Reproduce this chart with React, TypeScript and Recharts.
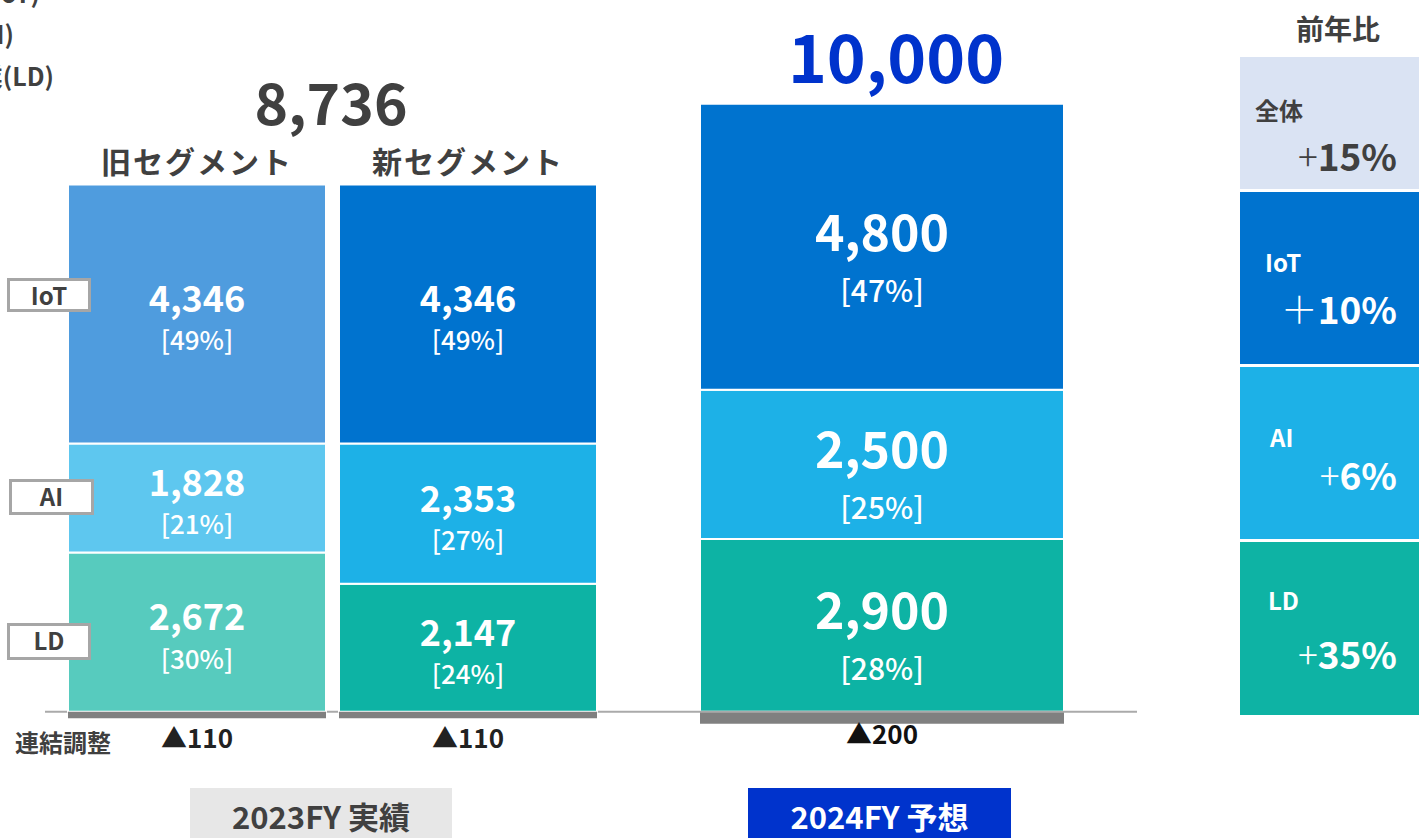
import React from "react";
import { BarChart, Bar, Cell, XAxis, YAxis, LabelList, ReferenceLine } from "recharts";

// 2023FY actuals (old / new segment split) and 2024FY forecast
const actualCategories = ["旧セグメント", "新セグメント"];
const actualIoT = [4346, 4346];
const actualAI = [1828, 2353];
const actualLD = [2672, 2147];
const actualAdj = [-110, -110];
const actualIoTPct = [49, 49];
const actualAIPct = [21, 27];
const actualLDPct = [30, 24];
const actualTotal = "8,736";

const forecastCategories = ["2024FY 予想"];
const forecastIoT = [4800];
const forecastAI = [2500];
const forecastLD = [2900];
const forecastAdj = [-200];
const forecastIoTPct = [47];
const forecastAIPct = [25];
const forecastLDPct = [28];
const forecastTotal = "10,000";

const yoyLabels = ["全体", "IoT", "AI", "LD"];
const yoyValues = ["+15%", "＋10%", "+6%", "+35%"];

const legendLines = ["IoTソリューション事業(IoT)", "AIソリューション事業(AI)", "ライフデザイン事業(LD)"];

const FONT = "'Noto Sans CJK JP', 'Noto Sans', sans-serif";
const DARK = "#404040";

const oldColors = { iot: "#4f9cde", ai: "#5ec7ef", ld: "#57cbbe" };
const newColors = { iot: "#0073cf", ai: "#1db1e7", ld: "#0db3a4" };

const actualData = actualCategories.map((name, i) => ({
  name,
  iot: actualIoT[i],
  ai: actualAI[i],
  ld: actualLD[i],
  adj: actualAdj[i],
  iotPct: actualIoTPct[i],
  aiPct: actualAIPct[i],
  ldPct: actualLDPct[i],
}));

const forecastData = forecastCategories.map((name, i) => ({
  name,
  iot: forecastIoT[i],
  ai: forecastAI[i],
  ld: forecastLD[i],
  adj: forecastAdj[i],
  iotPct: forecastIoTPct[i],
  aiPct: forecastAIPct[i],
  ldPct: forecastLDPct[i],
}));

const fmt = (v: number) => v.toLocaleString("en-US");

const segLabel = (rows: any[], pctKey: string, big: boolean) => (props: any) => {
  const { x, y, width, height, value, index } = props;
  const cx = x + width / 2;
  const cy = y + height / 2;
  const pct = rows[index][pctKey];
  return (
    <g>
      <text
        x={cx}
        y={cy - 18}
        textAnchor="middle"
        dominantBaseline="central"
        fill="#fff"
        fontFamily={FONT}
        fontWeight={700}
        fontSize={big ? 50 : 36}
      >
        {fmt(value)}
      </text>
      <text
        x={cx}
        y={cy + (big ? 42 : 25)}
        textAnchor="middle"
        dominantBaseline="central"
        fill="#fff"
        fontFamily={FONT}
        fontWeight={500}
        fontSize={big ? 30 : 26}
      >
        [{pct}%]
      </text>
    </g>
  );
};

const adjLabel = (gap: number, color: string) => (props: any) => {
  const { x, y, width, height, value } = props;
  const bottom = Math.max(y, y + height);
  return (
    <text
      x={x + width / 2}
      y={bottom + gap}
      textAnchor="middle"
      dominantBaseline="central"
      fill={color}
      fontFamily={FONT}
      fontWeight={700}
      fontSize={26}
    >
      ▲{Math.abs(value)}
    </text>
  );
};

const nameLabel = (props: any) => {
  const { x, y, width, value } = props;
  return (
    <text
      x={x + width / 2}
      y={y - 24}
      textAnchor="middle"
      dominantBaseline="central"
      fill={DARK}
      fontFamily={FONT}
      fontWeight={700}
      fontSize={30}
      letterSpacing={2}
    >
      {value}
    </text>
  );
};

const W = 1419;
const H = 838;
const DOMAIN: [number, number] = [-2000, 11000];
const MT = 56;
const MB = 7;

const abs = (style: React.CSSProperties): React.CSSProperties => ({ position: "absolute", ...style });

export default function App() {
  return (
    <div
      style={abs({
        left: 0,
        top: 0,
        width: W,
        height: H,
        overflow: "hidden",
        background: "#fff",
        fontFamily: FONT,
      })}
    >
      {/* forecast chart, also carries the zero line */}
      <div style={abs({ left: 0, top: 0 })}>
        <BarChart
          width={W}
          height={H}
          data={forecastData}
          stackOffset="sign"
          margin={{ top: MT, bottom: MB, left: 45, right: W - 1137 }}
        >
          <XAxis dataKey="name" hide padding={{ left: 582, right: 0 }} />
          <YAxis hide domain={DOMAIN} allowDataOverflow />
          <ReferenceLine y={0} stroke="#aaaaaa" strokeWidth={2} />
          <Bar dataKey="ld" stackId="a" barSize={364} fill={newColors.ld} stroke="#fff" strokeWidth={2} isAnimationActive={false}>
            <LabelList dataKey="ld" content={segLabel(forecastData, "ldPct", true)} />
          </Bar>
          <Bar dataKey="ai" stackId="a" barSize={364} fill={newColors.ai} stroke="#fff" strokeWidth={2} isAnimationActive={false}>
            <LabelList dataKey="ai" content={segLabel(forecastData, "aiPct", true)} />
          </Bar>
          <Bar dataKey="iot" stackId="a" barSize={364} fill={newColors.iot} stroke="#fff" strokeWidth={2} isAnimationActive={false}>
            <LabelList dataKey="iot" content={segLabel(forecastData, "iotPct", true)} />
          </Bar>
          <Bar dataKey="adj" stackId="a" barSize={364} fill="#808080" isAnimationActive={false}>
            <LabelList dataKey="adj" content={adjLabel(9, "#111")} />
          </Bar>
        </BarChart>
      </div>

      {/* 2023FY actual chart (old / new segments) */}
      <div style={abs({ left: 0, top: 0 })}>
        <BarChart
          width={W}
          height={H}
          data={actualData}
          stackOffset="sign"
          margin={{ top: MT, bottom: MB, left: 61, right: W - 603 }}
        >
          <XAxis dataKey="name" hide />
          <YAxis hide domain={DOMAIN} allowDataOverflow />
          <Bar dataKey="ld" stackId="a" barSize={258} stroke="#fff" strokeWidth={2} isAnimationActive={false}>
            {actualData.map((d, i) => (
              <Cell key={d.name} fill={i === 0 ? oldColors.ld : newColors.ld} />
            ))}
            <LabelList dataKey="ld" content={segLabel(actualData, "ldPct", false)} />
          </Bar>
          <Bar dataKey="ai" stackId="a" barSize={258} stroke="#fff" strokeWidth={2} isAnimationActive={false}>
            {actualData.map((d, i) => (
              <Cell key={d.name} fill={i === 0 ? oldColors.ai : newColors.ai} />
            ))}
            <LabelList dataKey="ai" content={segLabel(actualData, "aiPct", false)} />
          </Bar>
          <Bar dataKey="iot" stackId="a" barSize={258} stroke="#fff" strokeWidth={2} isAnimationActive={false}>
            {actualData.map((d, i) => (
              <Cell key={d.name} fill={i === 0 ? oldColors.iot : newColors.iot} />
            ))}
            <LabelList dataKey="iot" content={segLabel(actualData, "iotPct", false)} />
            <LabelList dataKey="name" content={nameLabel} />
          </Bar>
          <Bar dataKey="adj" stackId="a" barSize={258} fill="#808080" isAnimationActive={false}>
            <LabelList dataKey="adj" content={adjLabel(18, "#222")} />
          </Bar>
        </BarChart>
      </div>

      {/* totals */}
      <div style={abs({ left: 181, width: 300, top: 60, textAlign: "center", fontSize: 57, fontWeight: 700, color: DARK, lineHeight: "80px" })}>
        {actualTotal}
      </div>
      <div style={abs({ left: 711, width: 370, top: 9, textAlign: "center", fontSize: 66, fontWeight: 700, color: "#0033cc", lineHeight: "90px" })}>
        {forecastTotal}
      </div>

      {/* cut-off legend at top-left */}
      {legendLines.map((t, i) => (
        <div
          key={t}
          style={abs({
            right: W - [40, 14, 54][i],
            top: [-8, 33, 75][i] - 16,
            fontSize: 25,
            fontWeight: 700,
            color: DARK,
            whiteSpace: "nowrap",
            lineHeight: "32px",
          })}
        >
          {t}
        </div>
      ))}

      {/* segment tags on the left */}
      {["IoT", "AI", "LD"].map((t, i) => (
        <div
          key={t}
          style={abs({
            left: [7, 9, 7][i],
            top: [278, 479, 623][i],
            width: [84, 85, 84][i],
            height: [34, 36, 37][i],
            boxSizing: "border-box",
            border: "3px solid #a6a6a6",
            background: "#fff",
            color: DARK,
            fontSize: 24,
            fontWeight: 700,
            textAlign: "center",
            lineHeight: "28px",
          })}
        >
          {t}
        </div>
      ))}

      <div style={abs({ left: 15, top: 726, fontSize: 24, fontWeight: 700, color: DARK, lineHeight: "32px" })}>連結調整</div>

      {/* period boxes */}
      <div style={abs({ left: 190, top: 788, width: 262, height: 60, background: "#e7e7e7", color: DARK, fontSize: 31, fontWeight: 700, textAlign: "center", lineHeight: "56px" })}>
        2023FY 実績
      </div>
      <div style={abs({ left: 748, top: 788, width: 263, height: 60, background: "#0033cc", color: "#fff", fontSize: 31, fontWeight: 700, textAlign: "center", lineHeight: "56px" })}>
        {forecastCategories[0]}
      </div>

      {/* year-over-year panel */}
      <div style={abs({ left: 1240, width: 196, top: 10, textAlign: "center", fontSize: 28, fontWeight: 700, color: DARK, lineHeight: "36px" })}>
        前年比
      </div>
      {yoyLabels.map((lab, i) => {
        const tops = [57, 192, 367, 542];
        const hs = [132, 172, 172, 173];
        const bgs = ["#dae3f3", "#0073cf", "#1db1e7", "#0eb3a4"];
        const labelX = [15, 25, 30, 28];
        const labelY = [110, 262, 437, 600];
        const valY = [155, 308, 474, 653];
        const color = i === 0 ? DARK : "#fff";
        const v = yoyValues[i];
        const sign = v.charAt(0);
        const rest = v.slice(1);
        return (
          <div key={lab}>
            <div style={abs({ left: 1240, top: tops[i], width: 200, height: hs[i], background: bgs[i] })} />
            <div style={abs({ left: 1240 + labelX[i], top: labelY[i] - 16, fontSize: 24, fontWeight: 700, color, lineHeight: "32px" })}>
              {lab}
            </div>
            <div style={abs({ right: W - 1397, top: valY[i] - 24, fontSize: 37, fontWeight: 700, color, lineHeight: "48px", whiteSpace: "nowrap" })}>
              <span style={{ fontWeight: 300 }}>{sign}</span>
              {rest}
            </div>
          </div>
        );
      })}
    </div>
  );
}
